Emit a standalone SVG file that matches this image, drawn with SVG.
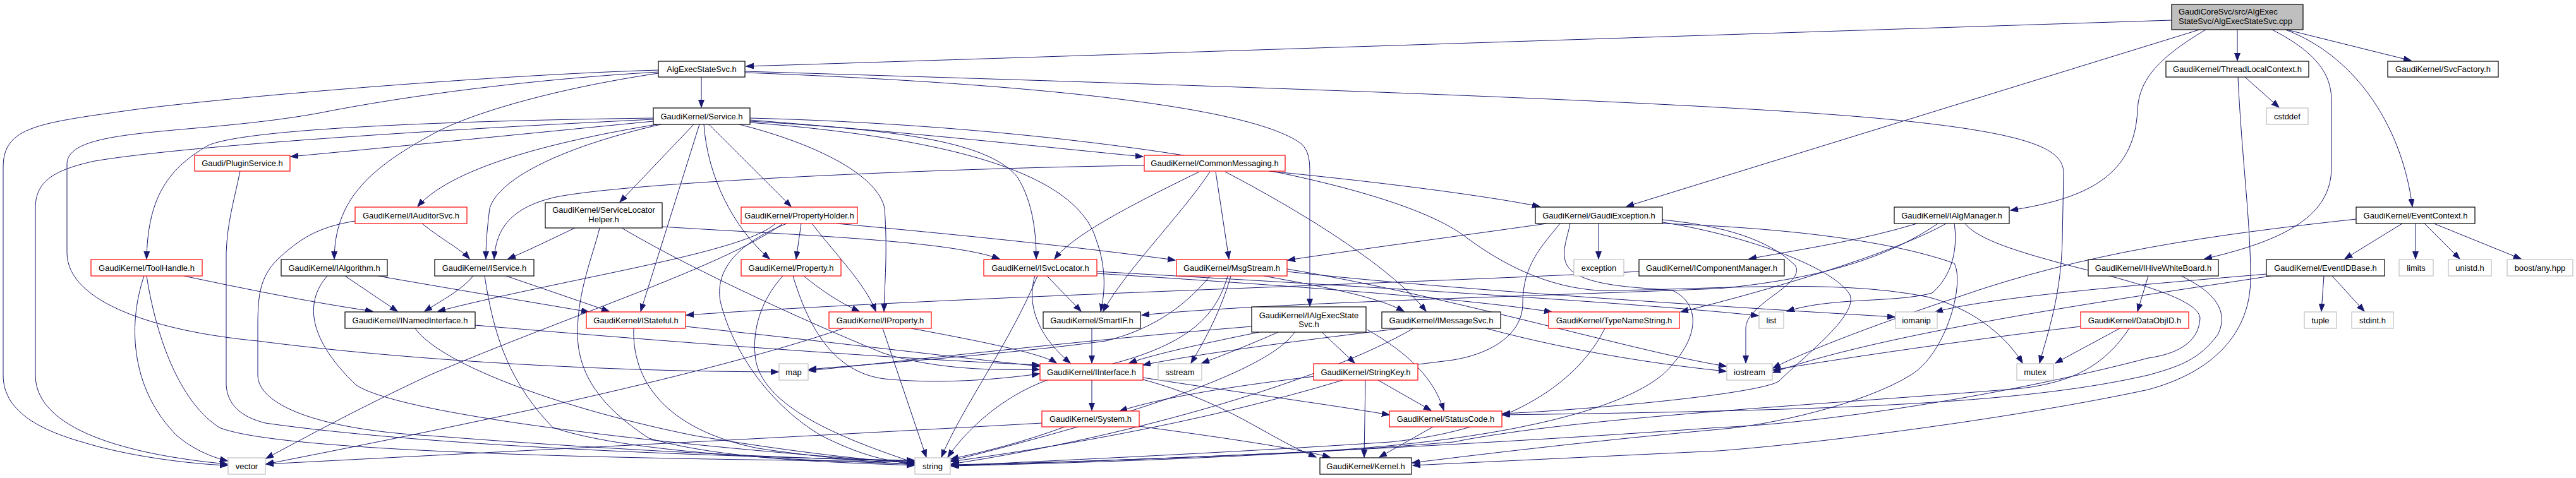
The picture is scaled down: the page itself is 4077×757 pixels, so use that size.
<svg xmlns="http://www.w3.org/2000/svg" width="4077" height="757" viewBox="0 0 4077 757">
<defs>
<marker id="a" markerUnits="userSpaceOnUse" markerWidth="13" markerHeight="10" refX="12" refY="4.5" orient="auto"><path d="M0,0 L12,4.5 L0,9 z" fill="#191970" stroke="#191970" stroke-width="1"/></marker>
<style>
rect{fill:#fff;stroke:#000;stroke-width:1.2}
.r rect{stroke:#ff0000}
.g rect{stroke:#bfbfbf}
.root rect{fill:#bfbfbf}
text{font-family:"Liberation Sans",Arial,sans-serif;font-size:13px;fill:#000;text-anchor:middle}
#edges path{fill:none;stroke:#191970;stroke-width:1;marker-end:url(#a)}
</style>
</defs>
<rect x="0" y="0" width="4077" height="757" style="fill:#fff;stroke:none"/>
<g id="edges">
<path d="M3437,32 C3000,46 1600,92 1181,105"/>
<path d="M3541,47 L3541,96"/>
<path d="M3619,47 L3816,96"/>
<path d="M3617,47 C3720,85 3800,190 3818,327"/>
<path d="M3481,47 L2574,327"/>
<path d="M3491,47 C3410,95 3385,130 3383,175 C3378,280 3300,315 3182,333"/>
<path d="M3596,47 C3670,85 3690,120 3690,160 L3690,265 C3690,340 3620,380 3489,410"/>
<path d="M1110,122 L1110,170"/>
<path d="M1179,115 C1700,135 1990,175 2060,228 C2072,240 2073,255 2073,275 L2073,485"/>
<path d="M1042,116 C880,140 740,180 680,215 C580,270 530,320 529,410"/>
<path d="M1042,111 C800,118 400,150 217,173 C60,195 5,200 5,265 L5,594 C5,650 60,680 130,700 C200,722 300,735 360,737"/>
<path d="M1042,114 C850,125 650,150 500,180 C300,215 106,200 106,260 L106,400 C106,480 250,525 408,540 C600,565 900,588 1232,589"/>
<path d="M1179,113 C1900,135 2700,160 3000,190 C3230,213 3266,240 3266,275 L3264,380 C3262,470 3240,530 3228,575"/>
<path d="M3553,122 L3607,170"/>
<path d="M3542,122 C3548,250 3562,350 3562,440 C3562,530 3500,590 3400,617 C3200,660 2900,700 2720,714 L2236,737"/>
<path d="M3802,354 L3711,410"/>
<path d="M3823,354 L3823,410"/>
<path d="M3837,354 L3893,410"/>
<path d="M3852,354 L3990,410"/>
<path d="M3729,347 C3500,372 3300,400 3100,470 C2950,520 2850,560 2806,583"/>
<path d="M3678,437 L3674,493"/>
<path d="M3691,437 L3742,493"/>
<path d="M3594,437 C3450,460 3000,520 2806,590"/>
<path d="M3587,434 C3400,450 3150,470 3063,494"/>
<path d="M3400,437 L3383,493"/>
<path d="M3452,437 C3500,460 3530,490 3510,530 C3480,570 3450,580 3400,594 C3200,640 2900,650 2378,657"/>
<path d="M3355,520 L3253,575"/>
<path d="M3293,517 C3100,540 2900,570 2806,586"/>
<path d="M3370,520 C3330,580 3280,605 3200,615 C2900,640 2500,660 2300,700 C2000,725 1700,733 1506,738"/>
<path d="M3034,354 C2950,380 2850,395 2768,410"/>
<path d="M3067,354 C3000,400 2900,440 2720,457 C2400,470 2000,480 1807,499"/>
<path d="M3080,354 C3000,400 2800,460 2660,494"/>
<path d="M3093,354 C3097,380 3097,430 3058,464 C3000,480 2900,470 2828,493"/>
<path d="M3110,354 C3130,380 3200,400 3262,417 C3350,440 3480,470 3482,504 C3480,540 3450,560 3400,567 C3200,620 2900,670 2720,677 C2400,700 1900,728 1506,736"/>
<path d="M2594,430 C2200,450 1500,470 1086,499"/>
<path d="M2448,354 C2300,375 2150,395 2038,412"/>
<path d="M2530,354 L2530,410"/>
<path d="M2469,354 C2440,390 2410,420 2410,480 C2410,530 2360,560 2300,570 C2150,590 1900,610 1772,651"/>
<path d="M2485,354 C2480,380 2470,400 2480,420 C2500,455 2600,455 2647,460 C2690,480 2690,530 2647,577 C2600,640 2400,700 2040,717 C1800,728 1600,735 1506,737"/>
<path d="M2631,348 C2700,355 2790,370 2841,420 C2860,450 2763,480 2763,520 L2763,575"/>
<path d="M2631,352 C2750,370 2900,420 2928,467 C2940,500 2860,560 2815,604 C2780,625 2500,650 2378,655"/>
<path d="M2631,354 C2800,360 2980,377 3093,417 C3110,450 3080,560 3024,594 C2950,640 2800,674 2720,680 C2500,700 2300,725 2235,733"/>
<path d="M1811,262 C1500,266 1000,288 880,312 C800,330 785,370 782,410"/>
<path d="M1898,272 C1800,320 1700,370 1669,410"/>
<path d="M1915,272 C1870,340 1780,430 1746,493"/>
<path d="M1924,272 L1945,410"/>
<path d="M1939,272 C2050,330 2200,420 2257,493"/>
<path d="M2008,271 C2200,290 2350,310 2437,327"/>
<path d="M1187,190 C1500,215 1700,238 1809,248"/>
<path d="M1187,187 C1700,200 2200,280 2322,377 C2380,420 2450,455 2530,460 C2700,460 2900,440 3050,470 C3130,490 3180,540 3201,575"/>
<path d="M1187,192 C1400,205 1560,220 1610,280 C1635,320 1640,370 1640,410"/>
<path d="M1187,194 C1450,215 1700,260 1735,380 C1750,420 1750,460 1742,493"/>
<path d="M1122,197 L1252,327"/>
<path d="M1114,197 C1120,280 1160,360 1218,410"/>
<path d="M1107,197 L1014,493"/>
<path d="M1098,197 L981,320"/>
<path d="M1046,197 C900,230 790,280 775,330 C770,370 769,390 769,410"/>
<path d="M1170,197 C1300,230 1390,280 1400,330 C1405,400 1400,450 1399,493"/>
<path d="M1034,187 C800,190 400,200 330,230 C260,270 234,320 232,410"/>
<path d="M1034,189 C700,205 300,230 150,255 C80,270 56,290 56,330 L56,594 C56,680 200,720 360,735"/>
<path d="M1034,192 C850,210 600,235 460,248"/>
<path d="M1040,197 C900,220 720,260 661,327"/>
<path d="M910,361 C880,375 840,395 804,410"/>
<path d="M949,361 C940,400 914,460 914,527 C914,600 960,650 1027,694 C1150,730 1350,733 1447,737"/>
<path d="M984,361 C1100,430 1300,520 1400,560 C1500,590 1600,585 1645,585"/>
<path d="M1048,359 C1250,372 1500,380 1582,410"/>
<path d="M1268,354 L1260,410"/>
<path d="M1285,354 C1320,400 1370,450 1386,493"/>
<path d="M1227,354 C1180,400 900,440 693,493"/>
<path d="M1239,354 C1150,420 900,500 680,594 C560,650 470,700 421,726"/>
<path d="M1245,354 C1180,380 1130,420 1140,477 C1160,560 1222,644 1300,690 C1360,720 1400,730 1447,735"/>
<path d="M1324,354 C1500,370 1700,390 1860,412"/>
<path d="M1272,437 C1300,460 1330,480 1360,493"/>
<path d="M1239,437 C1200,480 1190,530 1196,570 C1210,650 1350,700 1448,733"/>
<path d="M1255,437 C1280,520 1320,590 1400,600 C1500,610 1600,598 1645,592"/>
<path d="M1397,520 L1466,724"/>
<path d="M1442,520 C1550,540 1650,560 1672,575"/>
<path d="M1335,520 C1100,600 700,680 421,735"/>
<path d="M1003,520 C1000,600 1050,680 1200,710 C1300,725 1400,733 1447,736"/>
<path d="M1085,517 C1300,540 1550,570 1645,580"/>
<path d="M752,515 C1100,545 1450,570 1645,578"/>
<path d="M657,520 C700,580 900,650 1100,690 C1250,715 1380,730 1447,733"/>
<path d="M749,437 C730,460 700,475 672,493"/>
<path d="M801,437 L964,493"/>
<path d="M767,437 C780,520 800,600 875,677 C1000,720 1300,730 1447,735"/>
<path d="M546,437 L629,493"/>
<path d="M598,437 C700,455 850,480 932,494"/>
<path d="M518,437 C480,480 490,540 564,610 C640,660 1100,710 1447,733"/>
<path d="M291,437 C400,460 500,480 590,493"/>
<path d="M228,437 C200,520 210,620 280,690 C310,715 340,725 360,730"/>
<path d="M232,437 C250,550 290,640 347,677 C450,720 1100,728 1447,731"/>
<path d="M668,354 C700,380 730,395 743,410"/>
<path d="M562,350 C500,360 473,380 440,410 C410,440 408,470 408,520 L408,594 C408,640 500,680 680,690 C1000,715 1300,728 1447,730"/>
<path d="M380,271 C370,320 360,350 358,400 L358,610 C360,640 380,660 420,670 C700,710 1200,725 1447,729"/>
<path d="M1642,437 C1600,540 1520,650 1490,724"/>
<path d="M1638,437 C1625,480 1640,530 1694,575"/>
<path d="M1657,437 L1711,493"/>
<path d="M1736,430 C2100,450 2600,480 2783,500"/>
<path d="M1736,433 C2000,450 2300,470 2456,494"/>
<path d="M2000,437 C2100,455 2180,470 2222,493"/>
<path d="M1948,437 C1930,500 1900,550 1885,575"/>
<path d="M1915,437 C1880,480 1830,520 1750,540 C1600,560 1400,575 1280,585"/>
<path d="M1943,437 C1920,520 1850,560 1700,590 C1600,610 1530,680 1500,724"/>
<path d="M2037,430 C2300,460 2800,490 2999,502"/>
<path d="M2037,426 C2300,470 2600,560 2732,580"/>
<path d="M1728,520 L1728,575"/>
<path d="M2092,526 L2144,575"/>
<path d="M2164,522 C2230,560 2270,600 2285,650"/>
<path d="M1993,526 C1900,545 1830,560 1787,575"/>
<path d="M2023,526 C1980,545 1930,565 1902,575"/>
<path d="M1981,517 C1700,540 1450,570 1280,587"/>
<path d="M2049,526 C2000,600 1700,680 1505,730"/>
<path d="M2218,520 C2050,540 1900,560 1809,578"/>
<path d="M2237,520 C2100,600 1800,690 1505,735"/>
<path d="M2352,520 C2500,560 2650,580 2732,588"/>
<path d="M2540,520 C2500,600 2400,680 2200,700 C1900,720 1600,732 1505,738"/>
<path d="M2161,602 L2159,724"/>
<path d="M2181,602 L2265,650"/>
<path d="M2125,602 C2000,640 1800,690 1505,731"/>
<path d="M1728,602 L1728,650"/>
<path d="M1809,598 C1950,620 2100,640 2199,657"/>
<path d="M1809,601 C1950,640 2000,690 2083,724"/>
<path d="M1685,676 C1620,700 1560,715 1505,727"/>
<path d="M1649,670 C1300,690 800,715 421,735"/>
<path d="M1803,675 C1950,695 2050,710 2105,724"/>
<path d="M2268,676 L2183,724"/>
</g>
<g id="n_cpp" class="root"><rect x="3437" y="7" width="208" height="40"/><text x="3448" y="23" style="text-anchor:start">GaudiCoreSvc/src/AlgExec</text><text x="3448" y="38" style="text-anchor:start">StateSvc/AlgExecStateSvc.cpp</text></g>
<g id="n_AlgExecStateSvc"><rect x="1042" y="97" width="137" height="25"/><text x="1110.5" y="114">AlgExecStateSvc.h</text></g>
<g id="n_ThreadLocalContext"><rect x="3428" y="97" width="226" height="25"/><text x="3541" y="114">GaudiKernel/ThreadLocalContext.h</text></g>
<g id="n_SvcFactory"><rect x="3779" y="97" width="175" height="25"/><text x="3866.5" y="114">GaudiKernel/SvcFactory.h</text></g>
<g id="n_Service"><rect x="1034" y="171" width="153" height="26"/><text x="1110.5" y="188.5">GaudiKernel/Service.h</text></g>
<g id="n_cstddef" class="g"><rect x="3587" y="171" width="66" height="26"/><text x="3620" y="188.5">cstddef</text></g>
<g id="n_PluginService" class="r"><rect x="308" y="246" width="151" height="25"/><text x="383.5" y="263">Gaudi/PluginService.h</text></g>
<g id="n_CommonMessaging" class="r"><rect x="1811" y="246" width="223" height="25"/><text x="1922.5" y="263">GaudiKernel/CommonMessaging.h</text></g>
<g id="n_IAuditorSvc" class="r"><rect x="562" y="328" width="177" height="26"/><text x="650.5" y="345.5">GaudiKernel/IAuditorSvc.h</text></g>
<g id="n_ServiceLocatorHelper"><rect x="863" y="321" width="185" height="40"/><text x="955.5" y="337">GaudiKernel/ServiceLocator</text><text x="955.5" y="352">Helper.h</text></g>
<g id="n_PropertyHolder" class="r"><rect x="1173" y="328" width="184" height="26"/><text x="1265" y="345.5">GaudiKernel/PropertyHolder.h</text></g>
<g id="n_GaudiException"><rect x="2430" y="328" width="201" height="26"/><text x="2530.5" y="345.5">GaudiKernel/GaudiException.h</text></g>
<g id="n_IAlgManager"><rect x="2998" y="328" width="182" height="26"/><text x="3089" y="345.5">GaudiKernel/IAlgManager.h</text></g>
<g id="n_EventContext"><rect x="3729" y="328" width="188" height="26"/><text x="3823" y="345.5">GaudiKernel/EventContext.h</text></g>
<g id="n_ToolHandle" class="r"><rect x="144" y="411" width="176" height="26"/><text x="232" y="428.5">GaudiKernel/ToolHandle.h</text></g>
<g id="n_IAlgorithm"><rect x="445" y="411" width="168" height="26"/><text x="529" y="428.5">GaudiKernel/IAlgorithm.h</text></g>
<g id="n_IService"><rect x="688" y="411" width="157" height="26"/><text x="766.5" y="428.5">GaudiKernel/IService.h</text></g>
<g id="n_Property" class="r"><rect x="1173" y="411" width="158" height="26"/><text x="1252" y="428.5">GaudiKernel/Property.h</text></g>
<g id="n_ISvcLocator" class="r"><rect x="1557" y="411" width="179" height="26"/><text x="1646.5" y="428.5">GaudiKernel/ISvcLocator.h</text></g>
<g id="n_MsgStream" class="r"><rect x="1862" y="411" width="175" height="26"/><text x="1949.5" y="428.5">GaudiKernel/MsgStream.h</text></g>
<g id="n_exception" class="g"><rect x="2491" y="411" width="79" height="26"/><text x="2530.5" y="428.5">exception</text></g>
<g id="n_IComponentManager"><rect x="2594" y="411" width="230" height="26"/><text x="2709" y="428.5">GaudiKernel/IComponentManager.h</text></g>
<g id="n_IHiveWhiteBoard"><rect x="3305" y="411" width="206" height="26"/><text x="3408" y="428.5">GaudiKernel/IHiveWhiteBoard.h</text></g>
<g id="n_EventIDBase"><rect x="3587" y="411" width="187" height="26"/><text x="3680.5" y="428.5">GaudiKernel/EventIDBase.h</text></g>
<g id="n_limits" class="g"><rect x="3797" y="411" width="54" height="26"/><text x="3824" y="428.5">limits</text></g>
<g id="n_unistd" class="g"><rect x="3875" y="411" width="68" height="26"/><text x="3909" y="428.5">unistd.h</text></g>
<g id="n_boost_any" class="g"><rect x="3968" y="411" width="104" height="26"/><text x="4020" y="428.5">boost/any.hpp</text></g>
<g id="n_INamedInterface"><rect x="546" y="494" width="206" height="26"/><text x="649" y="511.5">GaudiKernel/INamedInterface.h</text></g>
<g id="n_IStateful" class="r"><rect x="928" y="494" width="157" height="26"/><text x="1006.5" y="511.5">GaudiKernel/IStateful.h</text></g>
<g id="n_IProperty" class="r"><rect x="1312" y="494" width="162" height="26"/><text x="1393" y="511.5">GaudiKernel/IProperty.h</text></g>
<g id="n_SmartIF"><rect x="1651" y="494" width="154" height="26"/><text x="1728" y="511.5">GaudiKernel/SmartIF.h</text></g>
<g id="n_IAlgExecStateSvc"><rect x="1981" y="486" width="181" height="40"/><text x="2071.5" y="503.5">GaudiKernel/IAlgExecState</text><text x="2071.5" y="518">Svc.h</text></g>
<g id="n_IMessageSvc"><rect x="2187" y="494" width="188" height="26"/><text x="2281" y="511.5">GaudiKernel/IMessageSvc.h</text></g>
<g id="n_TypeNameString" class="r"><rect x="2451" y="494" width="207" height="26"/><text x="2554.5" y="511.5">GaudiKernel/TypeNameString.h</text></g>
<g id="n_list" class="g"><rect x="2784" y="494" width="39" height="26"/><text x="2803.5" y="511.5">list</text></g>
<g id="n_iomanip" class="g"><rect x="3000" y="494" width="66" height="26"/><text x="3033" y="511.5">iomanip</text></g>
<g id="n_DataObjID" class="r"><rect x="3293" y="494" width="171" height="26"/><text x="3378.5" y="511.5">GaudiKernel/DataObjID.h</text></g>
<g id="n_tuple" class="g"><rect x="3647" y="494" width="51" height="26"/><text x="3672.5" y="511.5">tuple</text></g>
<g id="n_stdint" class="g"><rect x="3722" y="494" width="66" height="26"/><text x="3755" y="511.5">stdint.h</text></g>
<g id="n_map" class="g"><rect x="1233" y="576" width="46" height="26"/><text x="1256" y="593.5">map</text></g>
<g id="n_IInterface" class="r"><rect x="1646" y="576" width="163" height="26"/><text x="1727.5" y="593.5">GaudiKernel/IInterface.h</text></g>
<g id="n_sstream" class="g"><rect x="1833" y="576" width="69" height="26"/><text x="1867.5" y="593.5">sstream</text></g>
<g id="n_StringKey" class="r"><rect x="2079" y="576" width="165" height="26"/><text x="2161.5" y="593.5">GaudiKernel/StringKey.h</text></g>
<g id="n_iostream" class="g"><rect x="2733" y="576" width="72" height="26"/><text x="2769" y="593.5">iostream</text></g>
<g id="n_mutex" class="g"><rect x="3192" y="576" width="58" height="26"/><text x="3221" y="593.5">mutex</text></g>
<g id="n_System" class="r"><rect x="1649" y="651" width="154" height="25"/><text x="1726" y="668">GaudiKernel/System.h</text></g>
<g id="n_StatusCode" class="r"><rect x="2199" y="651" width="178" height="25"/><text x="2288" y="668">GaudiKernel/StatusCode.h</text></g>
<g id="n_vector" class="g"><rect x="361" y="725" width="59" height="26"/><text x="390.5" y="742.5">vector</text></g>
<g id="n_string" class="g"><rect x="1448" y="725" width="56" height="26"/><text x="1476" y="742.5">string</text></g>
<g id="n_Kernel"><rect x="2089" y="725" width="145" height="26"/><text x="2161.5" y="742.5">GaudiKernel/Kernel.h</text></g>
</svg>
